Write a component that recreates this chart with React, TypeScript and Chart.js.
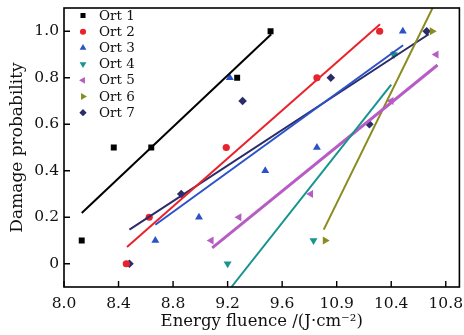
import React, { useEffect, useRef } from 'react';
import { Chart, registerables } from 'chart.js';
import { drawPoint } from 'chart.js/helpers';

Chart.register(...registerables);

// ---- data ----
const seriesNames = ['Ort 1', 'Ort 2', 'Ort 3', 'Ort 4', 'Ort 5', 'Ort 6', 'Ort 7'];

const ort1X = [8.13, 8.365, 8.64, 9.27, 9.515];
const ort1Y = [0.1, 0.5, 0.5, 0.8, 1.0];
const ort2X = [8.457, 8.625, 9.19, 9.855, 10.315];
const ort2Y = [0, 0.2, 0.5, 0.8, 1.0];
const ort3X = [8.67, 8.99, 9.216, 9.476, 9.855, 10.485];
const ort3Y = [0.1, 0.2, 0.8, 0.4, 0.5, 1.0];
const ort4X = [9.2, 9.83, 10.42];
const ort4Y = [0, 0.1, 0.9];
const ort5X = [9.08, 9.284, 9.81, 10.4, 10.73];
const ort5Y = [0.1, 0.2, 0.3, 0.7, 0.9];
const ort6X = [9.915, 10.42, 10.7];
const ort6Y = [0.1, 0.9, 1.0];
const ort7X = [8.48, 8.86, 9.31, 9.957, 10.24, 10.66];
const ort7Y = [0, 0.3, 0.7, 0.8, 0.6, 1.0];

// fitted line end points
const fit1X = [8.13, 9.52];
const fit1Y = [0.218, 0.987];
const fit2X = [8.462, 10.318];
const fit2Y = [0.072, 1.03];
const fit3X = [8.67, 10.487];
const fit3Y = [0.168, 0.94];
const fit4X = [9.228, 10.4];
const fit4Y = [-0.1, 0.77];
const fit5X = [9.087, 10.74];
const fit5Y = [0.068, 0.855];
const fit6X = [9.905, 10.72];
const fit6Y = [0.147, 1.12];
const fit7X = [8.48, 10.675];
const fit7Y = [0.147, 0.987];

const xTicks = [8.0, 8.4, 8.8, 9.2, 9.6, 10.0, 10.4, 10.8];
const xTickLabels = ['8.0', '8.4', '8.8', '9.2', '9.6', '10.9', '10.4', '10.8'];
const yTicks = [0, 0.2, 0.4, 0.6, 0.8, 1.0];
const yTickLabels = ['0', '0.2', '0.4', '0.6', '0.8', '1.0'];

// ---- styles ----
const colors = ['#000000', '#e8232b', '#2b52c8', '#17948f', '#b65cc4', '#8a8b1e', '#2c2c6a'];
const pointStyles = ['rect', 'circle', 'triangle', 'triangle', 'triangle', 'triangle', 'rectRot'];
const pointRotations = [0, 0, 0, 180, 270, 90, 0];
const pointRadii = [4.2, 3.6, 4.6, 4.6, 4.6, 4.6, 4.3];
const lineWidths = [2, 2, 2, 2, 3, 2, 2];
const FONT = "'DejaVu Serif', serif";

const pts = (xs: number[], ys: number[]) => xs.map((x, i) => ({ x, y: ys[i] }));

const App = () => {
  const ref = useRef<HTMLCanvasElement | null>(null);

  useEffect(() => {
    if (!ref.current) return;
    const seriesX = [ort1X, ort2X, ort3X, ort4X, ort5X, ort6X, ort7X];
    const seriesY = [ort1Y, ort2Y, ort3Y, ort4Y, ort5Y, ort6Y, ort7Y];
    const fitX = [fit1X, fit2X, fit3X, fit4X, fit5X, fit6X, fit7X];
    const fitY = [fit1Y, fit2Y, fit3Y, fit4Y, fit5Y, fit6Y, fit7Y];

    const lineSets = seriesNames.map((n, i) => ({
      type: 'line' as const,
      label: n + ' fit',
      data: pts(fitX[i], fitY[i]),
      borderColor: colors[i],
      borderWidth: lineWidths[i],
      pointRadius: 0,
      fill: false,
      tension: 0,
    }));
    const pointSets = seriesNames.map((n, i) => ({
      type: 'scatter' as const,
      label: n,
      data: pts(seriesX[i], seriesY[i]),
      backgroundColor: colors[i],
      borderColor: colors[i],
      borderWidth: 0,
      pointStyle: pointStyles[i],
      rotation: pointRotations[i],
      pointRadius: pointRadii[i],
      showLine: false,
    }));

    const framePlugin = {
      id: 'frame',
      afterDatasetsDraw(chart: any) {
        const { ctx, chartArea: a, scales } = chart;
        ctx.save();
        ctx.strokeStyle = '#000';
        ctx.lineWidth = 1.6;
        ctx.strokeRect(a.left, a.top, a.right - a.left, a.bottom - a.top);
        ctx.lineWidth = 1.4;
        ctx.beginPath();
        xTicks.forEach((v) => {
          const px = scales.x.getPixelForValue(v);
          ctx.moveTo(px, a.bottom);
          ctx.lineTo(px, a.bottom - 6);
        });
        yTicks.forEach((v) => {
          const py = scales.y.getPixelForValue(v);
          ctx.moveTo(a.left, py);
          ctx.lineTo(a.left + 6, py);
        });
        ctx.stroke();
        // legend
        ctx.font = `13.5px ${FONT}`;
        ctx.textAlign = 'left';
        ctx.textBaseline = 'middle';
        seriesNames.forEach((n, i) => {
          const y = 15.5 + i * 16.2;
          ctx.fillStyle = colors[i];
          ctx.strokeStyle = colors[i];
          ctx.lineWidth = 0;
          drawPoint(ctx, { pointStyle: pointStyles[i], rotation: pointRotations[i], radius: pointRadii[i] * 0.85, borderWidth: 0 }, 83, y);
          ctx.fillStyle = '#111';
          ctx.fillText(n, 99, y + 0.5);
        });
        ctx.restore();
      },
    };

    const chart = new Chart(ref.current, {
      data: { datasets: [...lineSets, ...pointSets] as any },
      options: {
        animation: false,
        responsive: false,
        layout: { padding: { top: 8, right: 2, left: 0, bottom: 0 } },
        plugins: { legend: { display: false }, tooltip: { enabled: false } },
        scales: {
          x: {
            type: 'linear',
            min: 8.0,
            max: 10.9,
            afterBuildTicks: (s: any) => { s.ticks = xTicks.map((v) => ({ value: v })); },
            afterFit: (s: any) => { s.height = 48; s.paddingLeft = 0; s.paddingRight = 0; },
            grid: { display: false, drawTicks: false },
            border: { display: false },
            ticks: {
              padding: 8,
              color: '#111',
              font: { family: FONT, size: 15.5 },
              autoSkip: false,
              maxRotation: 0,
              callback: (v: any) => { const k = xTicks.findIndex((t) => Math.abs(t - v) < 1e-6); return k >= 0 ? xTickLabels[k] : ''; },
            },
            title: {
              display: true,
              text: 'Energy fluence /(J·cm⁻²)',
              color: '#111',
              font: { family: FONT, size: 16.5 },
              padding: { top: 0, bottom: 3 },
            },
          },
          y: {
            type: 'linear',
            min: -0.1,
            max: 1.1,
            afterBuildTicks: (s: any) => { s.ticks = yTicks.map((v) => ({ value: v })); },
            afterFit: (s: any) => { s.width = 64; s.paddingTop = 0; s.paddingBottom = 0; },
            grid: { display: false, drawTicks: false },
            border: { display: false },
            ticks: {
              padding: 5,
              color: '#111',
              font: { family: FONT, size: 15.5 },
              callback: (v: any) => { const k = yTicks.findIndex((t) => Math.abs(t - v) < 1e-6); return k >= 0 ? yTickLabels[k] : ''; },
            },
            title: {
              display: true,
              text: 'Damage probability',
              color: '#111',
              font: { family: FONT, size: 17 },
              padding: { top: 7, bottom: 0 },
            },
          },
        },
      },
      plugins: [framePlugin],
    } as any);
    return () => chart.destroy();
  }, []);

  return (
    <div style={{ position: 'absolute', left: 0, top: 0, width: 464, height: 335, background: '#fff' }}>
      <canvas ref={ref} width={464} height={335} style={{ display: 'block' }} />
    </div>
  );
};

export default App;
